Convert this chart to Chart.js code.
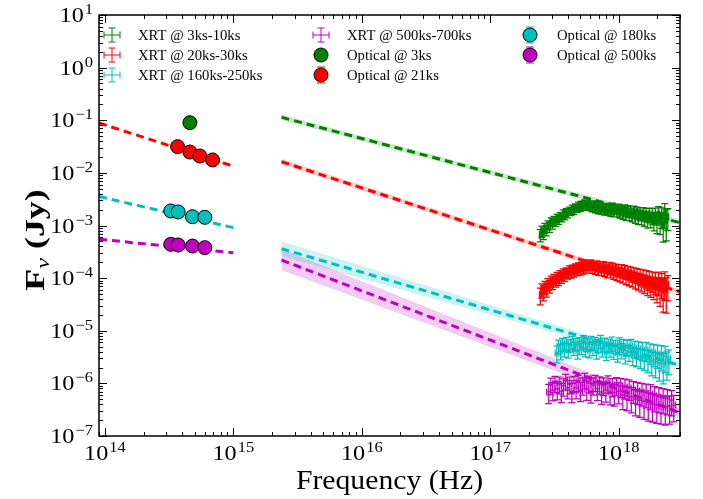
<!DOCTYPE html>
<html>
<head>
<meta charset="utf-8">
<script src="https://cdn.jsdelivr.net/npm/chart.js@4.4.1/dist/chart.umd.min.js"></script>
<style>
  html, body { margin: 0; padding: 0; background: #fff; }
  #wrap { width: 703px; height: 499px; }
</style>
</head>
<body>
<div id="wrap"><canvas id="sedChart" width="703" height="499"></canvas></div>
<script>
// XRT spectra: frequency (Hz), flux density (Jy), fractional 1-sigma error
const xrt3Freq = [2.45e17, 2.52e17, 2.59e17, 2.66e17, 2.73e17, 2.81e17, 2.89e17, 2.97e17, 3.05e17, 3.13e17, 3.22e17, 3.31e17, 3.4e17, 3.5e17, 3.6e17, 3.7e17, 3.8e17, 3.9e17, 4.0e17, 4.12e17, 4.24e17, 4.36e17, 4.48e17, 4.6e17, 4.73e17, 4.86e17, 5.0e17, 5.14e17, 5.28e17, 5.43e17, 5.58e17, 5.73e17, 5.89e17, 6.05e17, 6.22e17, 6.4e17, 6.58e17, 6.76e17, 6.95e17, 7.14e17, 7.34e17, 7.55e17, 7.76e17, 7.98e17, 8.2e17, 8.43e17, 8.67e17, 8.91e17, 9.16e17, 9.42e17, 9.68e17, 9.95e17, 1.023e18, 1.052e18, 1.081e18, 1.111e18, 1.142e18, 1.174e18, 1.207e18, 1.241e18, 1.276e18, 1.312e18, 1.349e18, 1.387e18, 1.426e18, 1.466e18, 1.507e18, 1.549e18, 1.592e18, 1.637e18, 1.683e18, 1.73e18, 1.779e18, 1.829e18, 1.88e18, 1.933e18, 1.987e18, 2.043e18, 2.1e18, 2.159e18, 2.22e18, 2.282e18, 2.346e18, 2.412e18];
const xrt3Flux = [6.6e-4, 7.86e-4, 7.21e-4, 8.97e-4, 8.21e-4, 1.02e-3, 9.4e-4, 1.17e-3, 1.07e-3, 1.27e-3, 1.17e-3, 1.39e-3, 1.27e-3, 1.52e-3, 1.39e-3, 1.73e-3, 1.52e-3, 1.81e-3, 1.65e-3, 1.97e-3, 1.81e-3, 2.15e-3, 1.89e-3, 2.25e-3, 2.06e-3, 2.45e-3, 2.15e-3, 2.56e-3, 2.25e-3, 2.68e-3, 2.35e-3, 2.68e-3, 2.25e-3, 2.56e-3, 2.15e-3, 2.56e-3, 2.06e-3, 2.45e-3, 1.97e-3, 2.35e-3, 1.97e-3, 2.25e-3, 1.89e-3, 2.25e-3, 1.89e-3, 2.15e-3, 1.81e-3, 2.25e-3, 1.81e-3, 2.15e-3, 1.81e-3, 2.15e-3, 1.73e-3, 2.06e-3, 1.65e-3, 2.06e-3, 1.58e-3, 1.97e-3, 1.58e-3, 1.89e-3, 1.52e-3, 1.89e-3, 1.45e-3, 1.81e-3, 1.39e-3, 1.73e-3, 1.39e-3, 1.73e-3, 1.33e-3, 1.65e-3, 1.27e-3, 1.65e-3, 1.33e-3, 1.58e-3, 1.22e-3, 1.58e-3, 1.17e-3, 1.65e-3, 1.22e-3, 1.52e-3, 1.07e-3, 1.73e-3, 1.27e-3, 1.45e-3];
const xrt3Err = [0.26, 0.24, 0.25, 0.22, 0.23, 0.2, 0.21, 0.19, 0.2, 0.18, 0.18, 0.17, 0.17, 0.16, 0.16, 0.15, 0.16, 0.15, 0.15, 0.14, 0.15, 0.14, 0.15, 0.14, 0.14, 0.14, 0.15, 0.14, 0.15, 0.14, 0.15, 0.14, 0.15, 0.15, 0.16, 0.15, 0.16, 0.15, 0.16, 0.16, 0.17, 0.16, 0.17, 0.17, 0.18, 0.17, 0.18, 0.18, 0.19, 0.18, 0.19, 0.19, 0.2, 0.2, 0.21, 0.2, 0.22, 0.21, 0.22, 0.22, 0.23, 0.23, 0.24, 0.24, 0.25, 0.25, 0.26, 0.27, 0.28, 0.28, 0.3, 0.3, 0.32, 0.33, 0.35, 0.36, 0.4, 0.38, 0.45, 0.42, 0.55, 0.5, 0.6, 0.45];

const xrt21Freq = [2.45e17, 2.52e17, 2.59e17, 2.66e17, 2.73e17, 2.81e17, 2.89e17, 2.97e17, 3.05e17, 3.13e17, 3.22e17, 3.31e17, 3.4e17, 3.5e17, 3.6e17, 3.7e17, 3.8e17, 3.9e17, 4.0e17, 4.12e17, 4.24e17, 4.36e17, 4.48e17, 4.6e17, 4.73e17, 4.86e17, 5.0e17, 5.14e17, 5.28e17, 5.43e17, 5.58e17, 5.73e17, 5.89e17, 6.05e17, 6.22e17, 6.4e17, 6.58e17, 6.76e17, 6.95e17, 7.14e17, 7.34e17, 7.55e17, 7.76e17, 7.98e17, 8.2e17, 8.43e17, 8.67e17, 8.91e17, 9.16e17, 9.42e17, 9.68e17, 9.95e17, 1.023e18, 1.052e18, 1.081e18, 1.111e18, 1.142e18, 1.174e18, 1.207e18, 1.241e18, 1.276e18, 1.312e18, 1.349e18, 1.387e18, 1.426e18, 1.466e18, 1.507e18, 1.549e18, 1.592e18, 1.637e18, 1.683e18, 1.73e18, 1.779e18, 1.829e18, 1.88e18, 1.933e18, 1.987e18, 2.043e18, 2.1e18, 2.159e18, 2.22e18, 2.282e18, 2.346e18, 2.412e18];
const xrt21Flux = [4.78e-5, 5.95e-5, 5.45e-5, 6.78e-5, 6.21e-5, 7.73e-5, 7.09e-5, 8.8e-5, 8.08e-5, 9.6e-5, 8.8e-5, 1.05e-4, 9.2e-5, 1.15e-4, 1.006e-4, 1.25e-4, 1.1e-4, 1.31e-4, 1.2e-4, 1.43e-4, 1.25e-4, 1.49e-4, 1.31e-4, 1.56e-4, 1.37e-4, 1.63e-4, 1.43e-4, 1.7e-4, 1.49e-4, 1.78e-4, 1.56e-4, 1.86e-4, 1.56e-4, 1.86e-4, 1.56e-4, 1.78e-4, 1.49e-4, 1.78e-4, 1.43e-4, 1.7e-4, 1.43e-4, 1.7e-4, 1.37e-4, 1.63e-4, 1.31e-4, 1.63e-4, 1.31e-4, 1.56e-4, 1.25e-4, 1.49e-4, 1.2e-4, 1.43e-4, 1.15e-4, 1.43e-4, 1.1e-4, 1.37e-4, 1.05e-4, 1.31e-4, 1.006e-4, 1.25e-4, 9.6e-5, 1.2e-4, 9.2e-5, 1.15e-4, 8.8e-5, 1.1e-4, 8.44e-5, 1.05e-4, 8.08e-5, 1.006e-4, 7.73e-5, 9.6e-5, 7.4e-5, 9.2e-5, 7.09e-5, 8.8e-5, 6.78e-5, 8.8e-5, 6.49e-5, 8.08e-5, 5.95e-5, 8.44e-5, 6.21e-5, 7.4e-5];
const xrt21Err = [0.35, 0.3, 0.32, 0.28, 0.3, 0.26, 0.27, 0.24, 0.25, 0.23, 0.23, 0.22, 0.22, 0.21, 0.21, 0.2, 0.21, 0.2, 0.2, 0.19, 0.2, 0.19, 0.2, 0.19, 0.19, 0.19, 0.2, 0.19, 0.2, 0.19, 0.2, 0.2, 0.2, 0.2, 0.21, 0.2, 0.21, 0.2, 0.21, 0.21, 0.22, 0.21, 0.22, 0.22, 0.23, 0.22, 0.23, 0.23, 0.24, 0.24, 0.25, 0.25, 0.26, 0.26, 0.27, 0.27, 0.28, 0.28, 0.29, 0.3, 0.3, 0.31, 0.32, 0.32, 0.33, 0.34, 0.35, 0.36, 0.37, 0.38, 0.4, 0.4, 0.42, 0.42, 0.45, 0.45, 0.5, 0.48, 0.55, 0.5, 0.62, 0.55, 0.65, 0.5];

const xrt160Freq = [3.3e17, 3.41e17, 3.53e17, 3.65e17, 3.78e17, 3.91e17, 4.05e17, 4.19e17, 4.33e17, 4.48e17, 4.64e17, 4.8e17, 4.97e17, 5.14e17, 5.32e17, 5.5e17, 5.69e17, 5.89e17, 6.09e17, 6.3e17, 6.52e17, 6.75e17, 6.98e17, 7.22e17, 7.47e17, 7.73e17, 8.0e17, 8.28e17, 8.56e17, 8.86e17, 9.17e17, 9.48e17, 9.81e17, 1.015e18, 1.05e18, 1.087e18, 1.124e18, 1.163e18, 1.203e18, 1.245e18, 1.288e18, 1.333e18, 1.379e18, 1.427e18, 1.476e18, 1.527e18, 1.58e18, 1.635e18, 1.691e18, 1.75e18, 1.81e18, 1.873e18, 1.938e18, 2.005e18, 2.074e18, 2.146e18, 2.22e18, 2.297e18, 2.376e18, 2.458e18];
const xrt160Flux = [3.78e-6, 5.13e-6, 4.12e-6, 5.6e-6, 4.5e-6, 5.85e-6, 4.31e-6, 5.36e-6, 6.11e-6, 4.7e-6, 5.6e-6, 4.12e-6, 5.85e-6, 4.91e-6, 6.39e-6, 4.5e-6, 5.6e-6, 4.31e-6, 6.11e-6, 4.7e-6, 5.85e-6, 4.12e-6, 5.36e-6, 6.39e-6, 4.5e-6, 5.6e-6, 3.95e-6, 5.36e-6, 4.5e-6, 5.85e-6, 4.12e-6, 5.13e-6, 3.78e-6, 5.6e-6, 4.31e-6, 5.13e-6, 3.62e-6, 4.91e-6, 3.95e-6, 5.13e-6, 3.46e-6, 4.7e-6, 3.31e-6, 4.5e-6, 3.17e-6, 4.31e-6, 3.03e-6, 4.31e-6, 2.9e-6, 3.95e-6, 2.66e-6, 3.78e-6, 2.55e-6, 3.62e-6, 2.44e-6, 3.46e-6, 2.34e-6, 3.31e-6, 2.55e-6, 2.9e-6];
const xrt160Err = [0.35, 0.3, 0.32, 0.28, 0.3, 0.28, 0.3, 0.27, 0.28, 0.28, 0.27, 0.3, 0.27, 0.28, 0.27, 0.29, 0.27, 0.29, 0.28, 0.28, 0.28, 0.3, 0.28, 0.28, 0.3, 0.29, 0.31, 0.29, 0.3, 0.3, 0.31, 0.3, 0.33, 0.31, 0.32, 0.32, 0.35, 0.33, 0.34, 0.34, 0.37, 0.35, 0.38, 0.36, 0.4, 0.38, 0.42, 0.4, 0.45, 0.42, 0.48, 0.45, 0.5, 0.47, 0.55, 0.5, 0.58, 0.52, 0.55, 0.5];

const xrt500Freq = [2.85e17, 2.96e17, 3.07e17, 3.19e17, 3.32e17, 3.44e17, 3.58e17, 3.71e17, 3.86e17, 4.01e17, 4.16e17, 4.32e17, 4.49e17, 4.66e17, 4.84e17, 5.03e17, 5.23e17, 5.43e17, 5.64e17, 5.86e17, 6.08e17, 6.32e17, 6.56e17, 6.82e17, 7.08e17, 7.36e17, 7.64e17, 7.94e17, 8.25e17, 8.57e17, 8.9e17, 9.24e17, 9.6e17, 9.97e17, 1.036e18, 1.076e18, 1.118e18, 1.161e18, 1.206e18, 1.253e18, 1.302e18, 1.352e18, 1.405e18, 1.459e18, 1.516e18, 1.575e18, 1.636e18, 1.699e18, 1.765e18, 1.834e18, 1.905e18, 1.979e18, 2.056e18, 2.135e18, 2.218e18, 2.304e18, 2.394e18, 2.487e18, 2.583e18, 2.683e18];
const xrt500Flux = [6.86e-7, 9.31e-7, 7.48e-7, 1.016e-6, 7.82e-7, 9.73e-7, 7.16e-7, 8.92e-7, 1.11e-6, 8.17e-7, 9.73e-7, 7.16e-7, 1.016e-6, 8.17e-7, 1.06e-6, 7.48e-7, 9.31e-7, 1.16e-6, 7.82e-7, 1.016e-6, 7.16e-7, 9.31e-7, 1.06e-6, 7.82e-7, 9.73e-7, 6.86e-7, 9.31e-7, 7.48e-7, 1.016e-6, 6.86e-7, 8.92e-7, 6.57e-7, 9.31e-7, 7.16e-7, 8.92e-7, 6.01e-7, 8.53e-7, 5.76e-7, 8.17e-7, 5.51e-7, 7.48e-7, 5.05e-7, 7.16e-7, 4.83e-7, 6.86e-7, 4.62e-7, 6.57e-7, 4.24e-7, 6.28e-7, 4.06e-7, 5.76e-7, 3.88e-7, 5.51e-7, 3.72e-7, 5.28e-7, 3.56e-7, 5.05e-7, 3.72e-7, 4.83e-7, 3.88e-7];
const xrt500Err = [0.4, 0.35, 0.38, 0.34, 0.38, 0.35, 0.4, 0.36, 0.33, 0.38, 0.35, 0.4, 0.34, 0.38, 0.34, 0.4, 0.36, 0.33, 0.39, 0.35, 0.41, 0.36, 0.34, 0.4, 0.36, 0.42, 0.37, 0.41, 0.36, 0.43, 0.38, 0.44, 0.38, 0.43, 0.4, 0.47, 0.41, 0.48, 0.42, 0.5, 0.44, 0.52, 0.45, 0.53, 0.46, 0.55, 0.48, 0.55, 0.5, 0.55, 0.5, 0.55, 0.5, 0.55, 0.5, 0.55, 0.5, 0.55, 0.5, 0.52];

// half width of each XRT energy bin, as a fraction of its frequency
const xrt3BinHalf = 0.015;
const xrt21BinHalf = 0.015;
const xrt160BinHalf = 0.03;
const xrt500BinHalf = 0.035;

// optical photometry (Hz, Jy)
const opt3Freq = [4.59e14];
const opt3Flux = [0.0898];
const opt21Freq = [3.68e14, 4.59e14, 5.49e14, 6.89e14];
const opt21Flux = [0.0315, 0.0249, 0.0209, 0.0176];
const opt180Freq = [3.26e14, 3.72e14, 4.81e14, 6.0e14];
const opt180Flux = [1.89e-3, 1.81e-3, 1.47e-3, 1.43e-3];
const opt500Freq = [3.26e14, 3.72e14, 4.81e14, 6.0e14];
const opt500Flux = [4.39e-4, 4.26e-4, 4.07e-4, 3.79e-4];

// power-law fits, optical part
const optFitFreq = [9e13, 1e15];
const opt21Fit = [0.0887, 0.01336];
const opt180Fit = [3.56e-3, 9.1e-4];
const opt500Fit = [5.48e-4, 3.04e-4];

// power-law fits extrapolated from the X-ray band, with 1-sigma envelopes
const xFitFreq = [2.37e15, 3e18];
const xrt3Fit = [0.1138, 1.13e-3];
const xrt3FitHi = [0.127, 1.27e-3];
const xrt3FitLo = [0.1016, 1.01e-3];
const xrt21Fit = [0.0163, 5.47e-5];
const xrt21FitHi = [0.0183, 6.1e-5];
const xrt21FitLo = [0.01455, 4.88e-5];
const xrt160Fit = [3.62e-4, 2.19e-6];
const xrt160FitHi = [5.0e-4, 2.45e-6];
const xrt160FitLo = [2.62e-4, 1.96e-6];
const xrt500Fit = [2.21e-4, 2.75e-7];
const xrt500FitHi = [3.58e-4, 3.3e-7];
const xrt500FitLo = [1.43e-4, 2.29e-7];

// axis decades that get a 10^n label
const xTickExps = [14, 15, 16, 17, 18];
const yTickExps = [1, 0, -1, -2, -3, -4, -5, -6, -7];

const legendLabels = ['XRT @ 3ks-10ks', 'XRT @ 20ks-30ks', 'XRT @ 160ks-250ks', 'XRT @ 500ks-700ks',
  'Optical @ 3ks', 'Optical @ 21ks', 'Optical @ 180ks', 'Optical @ 500ks'];

const GREEN = '#008000', RED = '#ff0000', CYAN = '#00bfbf', MAGENTA = '#bf00bf';
const SERIF = '"Liberation Serif", "Times New Roman", serif';

function pts(xs, ys) {
    return xs.map((x, i) => ({ x: x, y: ys[i] }));
}

function envelope(hi, lo, fillColor) {
    return [
        { data: pts(xFitFreq, hi), borderColor: 'rgba(0,0,0,0)', borderWidth: 1, pointRadius: 0,
          fill: '+1', backgroundColor: fillColor, order: 4, clip: 0 },
        { data: pts(xFitFreq, lo), borderColor: 'rgba(0,0,0,0)', borderWidth: 1, pointRadius: 0,
          fill: false, order: 4, clip: 0 }
    ];
}

function fitLine(freq, flux, color) {
    return { data: pts(freq, flux), borderColor: color, borderWidth: 3, borderDash: [8, 5],
             pointRadius: 0, fill: false, order: 3, clip: 0 };
}

function xrtSet(freq, flux, err, binHalf, color) {
    return { data: pts(freq, flux), showLine: false, pointRadius: 0, errY: err, errX: binHalf,
             barColor: color, order: 2 };
}

function optSet(freq, flux, color) {
    return { data: pts(freq, flux), showLine: false, pointRadius: 7, pointBackgroundColor: color,
             pointBorderColor: '#000', pointBorderWidth: 1, order: 1 };
}

const datasets = [
    ...envelope(xrt3FitHi, xrt3FitLo, 'rgba(0,128,0,0.2)'),
    ...envelope(xrt21FitHi, xrt21FitLo, 'rgba(255,0,0,0.2)'),
    ...envelope(xrt160FitHi, xrt160FitLo, 'rgba(0,191,191,0.2)'),
    ...envelope(xrt500FitHi, xrt500FitLo, 'rgba(191,0,191,0.2)'),
    fitLine(xFitFreq, xrt3Fit, GREEN),
    fitLine(xFitFreq, xrt21Fit, RED),
    fitLine(xFitFreq, xrt160Fit, CYAN),
    fitLine(xFitFreq, xrt500Fit, MAGENTA),
    fitLine(optFitFreq, opt21Fit, RED),
    fitLine(optFitFreq, opt180Fit, CYAN),
    fitLine(optFitFreq, opt500Fit, MAGENTA),
    xrtSet(xrt3Freq, xrt3Flux, xrt3Err, xrt3BinHalf, GREEN),
    xrtSet(xrt21Freq, xrt21Flux, xrt21Err, xrt21BinHalf, RED),
    xrtSet(xrt160Freq, xrt160Flux, xrt160Err, xrt160BinHalf, CYAN),
    xrtSet(xrt500Freq, xrt500Flux, xrt500Err, xrt500BinHalf, MAGENTA),
    optSet(opt3Freq, opt3Flux, GREEN),
    optSet(opt21Freq, opt21Flux, RED),
    optSet(opt180Freq, opt180Flux, CYAN),
    optSet(opt500Freq, opt500Flux, MAGENTA)
];

const CAP = 3.5;

function crossAt(ctx, cx, cy, x0, x1, y0, y1) {
    ctx.moveTo(cx, y0); ctx.lineTo(cx, y1);
    ctx.moveTo(x0, cy); ctx.lineTo(x1, cy);
    ctx.moveTo(cx - CAP, y0); ctx.lineTo(cx + CAP, y0);
    ctx.moveTo(cx - CAP, y1); ctx.lineTo(cx + CAP, y1);
    ctx.moveTo(x0, cy - CAP); ctx.lineTo(x0, cy + CAP);
    ctx.moveTo(x1, cy - CAP); ctx.lineTo(x1, cy + CAP);
}

// x and y error bars with caps, drawn right after their dataset
const errorBars = {
    id: 'errorBars',
    afterDatasetDraw(chart, args) {
        const ds = chart.data.datasets[args.index];
        if (!ds.errY) return;
        const { ctx, chartArea: a, scales: { x, y } } = chart;
        ctx.save();
        ctx.beginPath();
        ctx.rect(a.left, a.top, a.right - a.left, a.bottom - a.top);
        ctx.clip();
        ctx.strokeStyle = ds.barColor;
        ctx.lineWidth = 1.25;
        ctx.beginPath();
        ds.data.forEach((p, i) => {
            const e = ds.errY[i];
            crossAt(ctx,
                x.getPixelForValue(p.x), y.getPixelForValue(p.y),
                x.getPixelForValue(p.x * (1 - ds.errX)), x.getPixelForValue(p.x * (1 + ds.errX)),
                y.getPixelForValue(p.y * (1 + e)), y.getPixelForValue(p.y * (1 - e)));
        });
        ctx.stroke();
        ctx.restore();
    }
};

// Computer Modern runs wider than Liberation Serif, so text is stretched along its baseline
function wideText(ctx, text, x, y, sx) {
    ctx.save();
    ctx.translate(x, y);
    ctx.scale(sx, 1);
    ctx.fillText(text, 0, 0);
    ctx.restore();
}

function drawPow(ctx, exp, x, baseline, align) {
    const sx = 1.1;
    const sup = String(exp).replace('-', '\u2212');
    ctx.font = '22px ' + SERIF;
    const wb = ctx.measureText('10').width * sx;
    ctx.font = '15px ' + SERIF;
    const ws = ctx.measureText(sup).width * sx;
    const total = wb + 1 + ws;
    const left = align === 'right' ? x - total : x - total / 2;
    ctx.textAlign = 'left';
    ctx.textBaseline = 'alphabetic';
    ctx.font = '22px ' + SERIF;
    wideText(ctx, '10', left, baseline, sx);
    ctx.font = '15px ' + SERIF;
    wideText(ctx, sup, left + wb + 1, baseline - 8, sx);
}

// frame, inward ticks on all four sides, tick labels, titles, legend
const decorations = {
    id: 'decorations',
    afterDraw(chart) {
        const { ctx, chartArea: a, scales: { x, y } } = chart;
        ctx.save();
        ctx.strokeStyle = '#000';
        ctx.fillStyle = '#000';

        ctx.lineWidth = 1;
        ctx.beginPath();
        for (let e = 13; e <= 18; e++) {
            for (let m = 1; m <= 9; m++) {
                const v = m * Math.pow(10, e);
                if (v < x.min || v > x.max) continue;
                const px = Math.round(x.getPixelForValue(v)) + 0.5;
                const len = m === 1 ? 8 : 4;
                ctx.moveTo(px, a.bottom); ctx.lineTo(px, a.bottom - len);
                ctx.moveTo(px, a.top); ctx.lineTo(px, a.top + len);
            }
        }
        for (let e = -7; e <= 1; e++) {
            for (let m = 1; m <= 9; m++) {
                const v = m * Math.pow(10, e);
                if (v < y.min * 0.999 || v > y.max * 1.001) continue;
                const py = Math.round(y.getPixelForValue(v)) + 0.5;
                const len = m === 1 ? 8 : 4;
                ctx.moveTo(a.left, py); ctx.lineTo(a.left + len, py);
                ctx.moveTo(a.right, py); ctx.lineTo(a.right - len, py);
            }
        }
        ctx.stroke();

        ctx.lineWidth = 1.5;
        ctx.strokeRect(a.left, a.top, a.right - a.left, a.bottom - a.top);

        xTickExps.forEach(e => drawPow(ctx, e, x.getPixelForValue(Math.pow(10, e)), a.bottom + 24, 'center'));
        yTickExps.forEach(e => drawPow(ctx, e, a.left - 6, y.getPixelForValue(Math.pow(10, e)) + 7, 'right'));

        // axis titles
        ctx.textAlign = 'left';
        ctx.textBaseline = 'alphabetic';
        ctx.font = '27px ' + SERIF;
        const wx = ctx.measureText('Frequency (Hz)').width * 1.1;
        wideText(ctx, 'Frequency (Hz)', (a.left + a.right) / 2 - wx / 2, 489, 1.1);

        ctx.save();
        ctx.translate(44, 240);
        ctx.rotate(-Math.PI / 2);
        ctx.scale(1.28, 1);
        const fB = 'bold 28px ' + SERIF, fS = 'italic 19px ' + SERIF;
        ctx.font = fB; const wF = ctx.measureText('F').width;
        ctx.font = fS; const wN = ctx.measureText('\u03bd').width;
        ctx.font = fB; const wJ = ctx.measureText(' (Jy)').width;
        let tx = -(wF + wN + wJ) / 2;
        ctx.font = fB; ctx.fillText('F', tx, 0); tx += wF;
        ctx.font = fS; ctx.fillText('\u03bd', tx, 5); tx += wN;
        ctx.font = fB; ctx.fillText(' (Jy)', tx, 0);
        ctx.restore();

        // legend, three columns
        const colors = [GREEN, RED, CYAN, MAGENTA, GREEN, RED, CYAN, MAGENTA];
        const markX = [112, 321, 530], textX = [138, 347, 557], rowY = [35, 55, 75];
        ctx.font = '14.7px ' + SERIF;
        ctx.textBaseline = 'middle';
        legendLabels.forEach((label, i) => {
            const col = Math.floor(i / 3), row = i % 3;
            const mx = markX[col], my = rowY[row];
            ctx.strokeStyle = colors[i];
            ctx.fillStyle = colors[i];
            ctx.lineWidth = 1;
            if (i < 4) {
                ctx.beginPath();
                crossAt(ctx, mx, my, mx - 8, mx + 8, my - 7, my + 7);
                ctx.stroke();
            } else {
                if (i > 4) {
                    ctx.beginPath();
                    ctx.moveTo(mx - 4, my - 8); ctx.lineTo(mx + 4, my - 8);
                    ctx.moveTo(mx - 4, my + 8); ctx.lineTo(mx + 4, my + 8);
                    ctx.stroke();
                }
                ctx.beginPath();
                ctx.arc(mx, my, 7, 0, Math.PI * 2);
                ctx.fill();
                ctx.strokeStyle = '#000';
                ctx.stroke();
            }
            ctx.fillStyle = '#000';
            ctx.textAlign = 'left';
            ctx.fillText(label, textX[col], my + 1);
        });
        ctx.restore();
    }
};

new Chart(document.getElementById('sedChart').getContext('2d'), {
    type: 'line',
    data: { datasets: datasets },
    options: {
        responsive: false,
        animation: false,
        devicePixelRatio: 1,
        events: [],
        layout: { padding: { left: 99, right: 23, top: 15, bottom: 63 } },
        elements: { line: { tension: 0 } },
        plugins: { legend: { display: false }, tooltip: { enabled: false } },
        scales: {
            x: { type: 'logarithmic', min: 9e13, max: 3e18, display: false },
            y: { type: 'logarithmic', min: 1e-7, max: 10, display: false }
        }
    },
    plugins: [errorBars, decorations]
});
</script>
</body>
</html>
